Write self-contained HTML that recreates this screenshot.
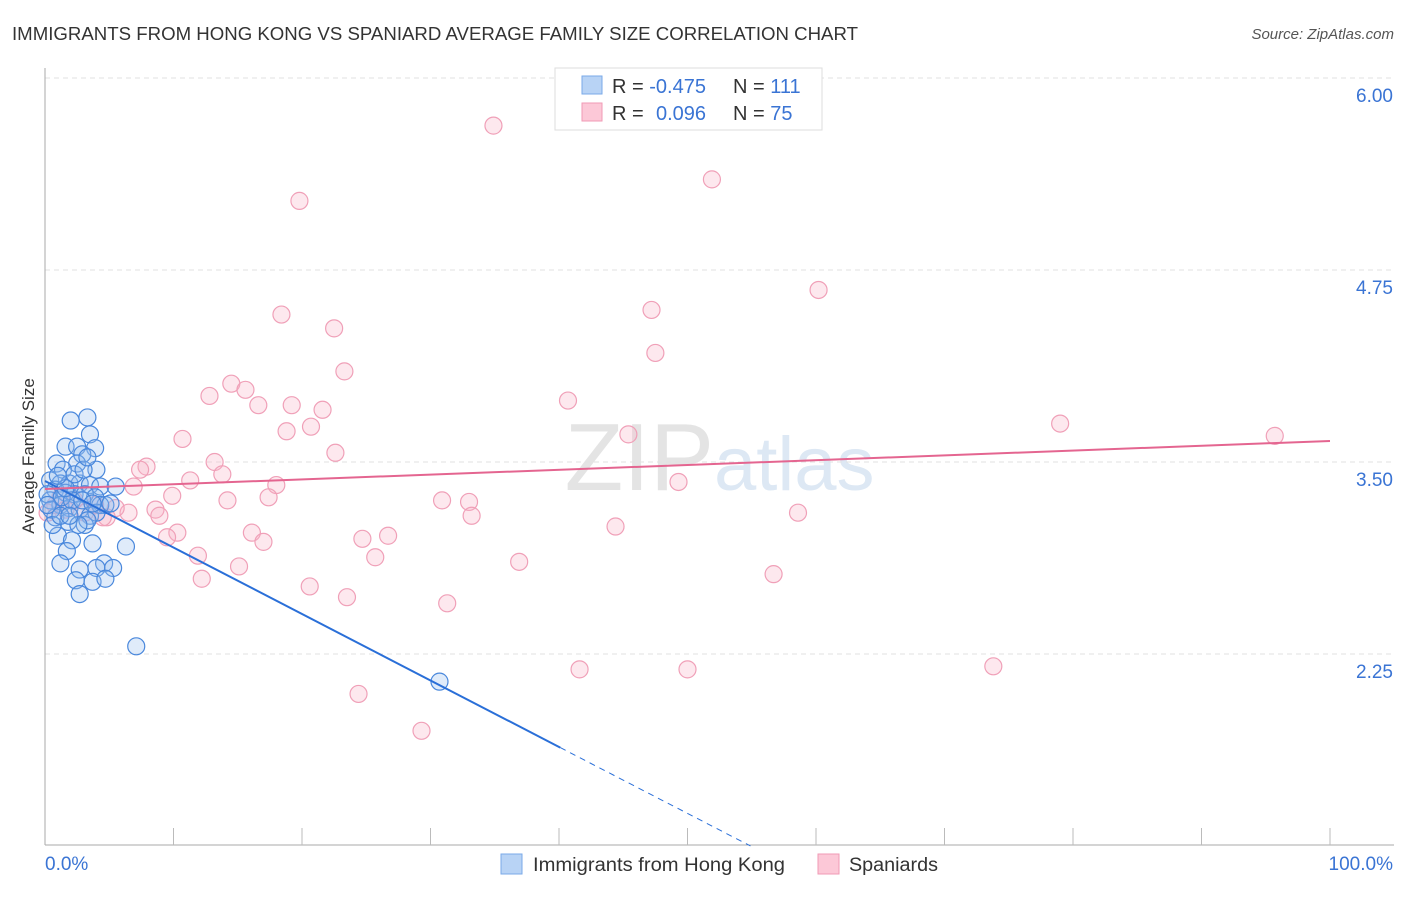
<!DOCTYPE html>
<html><head><meta charset="utf-8"><style>
body{margin:0;background:#fff;font-family:"Liberation Sans",sans-serif;}
svg text{font-family:"Liberation Sans",sans-serif;}
</style></head><body>
<svg id="chart" width="1406" height="892" xmlns="http://www.w3.org/2000/svg">
<text x="12" y="40" font-size="18" fill="#333" textLength="846" lengthAdjust="spacingAndGlyphs">IMMIGRANTS FROM HONG KONG VS SPANIARD AVERAGE FAMILY SIZE CORRELATION CHART</text>
<text x="1394" y="39" font-size="15" fill="#555" font-style="italic" text-anchor="end">Source: ZipAtlas.com</text>
<text x="714" y="490" font-size="96" fill="#e4e4e4" text-anchor="end" font-family="Liberation Serif">ZIP</text>
<text x="714" y="490" font-size="76" fill="#dde8f4">atlas</text>
<g id="grid"></g>
<g id="axes"></g>
<g id="pink"></g>
<g id="blue"></g>
<g id="lines"></g>
<text transform="translate(34,456) rotate(-90)" font-size="17" fill="#333" text-anchor="middle">Average Family Size</text>
<g>
<rect x="555" y="68" width="267" height="62" fill="#fff" stroke="#ddd"/>
<rect x="582" y="76" width="20" height="18" fill="#b8d3f5" stroke="#7aaae8"/>
<rect x="582" y="103" width="20" height="18" fill="#fcc8d7" stroke="#f09ab5"/>
<text x="612" y="93" font-size="20" fill="#333">R = <tspan fill="#3a74d4">-0.475</tspan></text>
<text x="733" y="93" font-size="20" fill="#333">N = <tspan fill="#3a74d4">111</tspan></text>
<text x="612" y="120" font-size="20" fill="#333">R = <tspan fill="#3a74d4" x="656">0.096</tspan></text>
<text x="733" y="120" font-size="20" fill="#333">N = <tspan fill="#3a74d4">75</tspan></text>
</g>
<g>
<rect x="501" y="854" width="21" height="20" fill="#b8d3f5" stroke="#7aaae8"/>
<text x="533" y="871" font-size="19" fill="#333" textLength="252" lengthAdjust="spacingAndGlyphs">Immigrants from Hong Kong</text>
<rect x="818" y="854" width="21" height="20" fill="#fcc8d7" stroke="#f09ab5"/>
<text x="849" y="871" font-size="19" fill="#333" textLength="89" lengthAdjust="spacingAndGlyphs">Spaniards</text>
</g>
</svg>
<script>
const yTicks=[6.00,4.75,3.50,2.25];
const xTickLabels=["0.0%","100.0%"];
const blueX=[2.0,3.3,3.5,1.6,2.5,3.9,2.9,0.9,2.5,4.0,1.4,0.4,1.2,1.9,2.7,3.5,4.3,5.5,0.8,1.6,2.3,3.1,3.9,4.7,0.4,1.2,1.9,2.7,3.5,0.8,1.8,3.1,1.0,2.1,3.7,6.3,1.7,1.2,4.6,2.7,4.0,5.3,2.4,3.7,4.7,2.7,7.1,30.7,0.2,0.5,1.3,2.1,1.6,1.0,2.3,3.0,3.3,4.3,5.1,4.0,3.3,2.6,0.6,0.2,1.2,1.9,2.9,3.7];
const blueY=[3.77,3.79,3.68,3.60,3.60,3.59,3.55,3.49,3.49,3.45,3.45,3.38,3.36,3.36,3.36,3.35,3.34,3.34,3.32,3.30,3.29,3.29,3.27,3.22,3.25,3.22,3.20,3.19,3.15,3.14,3.11,3.09,3.02,2.99,2.97,2.95,2.92,2.84,2.84,2.80,2.81,2.81,2.73,2.72,2.74,2.64,2.30,2.07,3.29,3.19,3.27,3.25,3.33,3.41,3.42,3.45,3.53,3.22,3.23,3.17,3.12,3.09,3.09,3.22,3.15,3.15,3.25,3.23];
const pinkX=[34.9,51.9,19.8,60.2,18.4,47.2,22.5,47.5,23.3,14.5,15.6,12.8,40.7,16.6,19.2,21.6,20.7,18.8,79.0,95.7,10.7,45.4,22.6,13.2,13.8,7.9,7.4,11.3,18.0,49.3,6.9,9.9,14.2,17.4,30.9,33.0,8.6,6.5,8.9,33.2,58.6,4.8,44.4,16.1,10.3,9.5,24.7,26.7,17.0,11.9,25.7,36.9,15.1,56.7,12.2,20.6,23.5,31.3,41.6,50.0,73.8,24.4,29.3,0.8,1.6,2.3,3.1,3.9,5.5,4.5,1.2,0.2];
const pinkY=[5.69,5.34,5.20,4.62,4.46,4.49,4.37,4.21,4.09,4.01,3.97,3.93,3.90,3.87,3.87,3.84,3.73,3.70,3.75,3.67,3.65,3.68,3.56,3.50,3.42,3.47,3.45,3.38,3.35,3.37,3.34,3.28,3.25,3.27,3.25,3.24,3.19,3.17,3.15,3.15,3.17,3.14,3.08,3.04,3.04,3.01,3.00,3.02,2.98,2.89,2.88,2.85,2.82,2.77,2.74,2.69,2.62,2.58,2.15,2.15,2.17,1.99,1.75,3.22,3.19,3.25,3.17,3.22,3.20,3.14,3.27,3.17];
const blueTrend=[3.376,1.645];
const blueTrendEnd=[40.1,54.9];
const pinkTrend=[3.324,3.637];

const NS="http://www.w3.org/2000/svg";
const X=p=>45+p*12.85;
const Y=v=>462-(v-3.5)*153.6;
function mk(tag,attrs,parent){const e=document.createElementNS(NS,tag);for(const k in attrs)e.setAttribute(k,attrs[k]);document.getElementById(parent).appendChild(e);return e;}

yTicks.forEach(t=>{
  const l=mk('line',{x1:45,x2:1394,y1:Y(t),y2:Y(t),stroke:'#e2e2e2','stroke-dasharray':'5,4'},'grid');
  
  
  const tx=mk('text',{x:1393,y:Y(t)+24,'font-size':19,fill:'#3a74d4','text-anchor':'end'},'grid');
  tx.textContent=t.toFixed(2);
  
  
});
const ax=mk('line',{x1:45,x2:45,y1:68,y2:845,stroke:'#aaa'},'axes');


const bx=mk('line',{x1:45,x2:1394,y1:845,y2:845,stroke:'#aaa'},'axes');


for(let i=1;i<=10;i++){
  const t=mk('line',{x1:X(i*10),x2:X(i*10),y1:828,y2:845,stroke:'#bbb'},'axes');
  
  
}
[[0,'start'],[100,'end']].forEach((p,i)=>{
  const tx=mk('text',{x:i?1393:45,y:870,'font-size':19,fill:'#3a74d4','text-anchor':p[1]},'axes');
  tx.textContent=xTickLabels[i];
  
  
});
pinkX.forEach((x,i)=>{
  const c=mk('circle',{cx:X(x),cy:Y(pinkY[i]),r:8.5,fill:'rgba(248,180,200,0.3)',stroke:'#f0a0b8','stroke-width':1.2},'pink');
  
  
});
blueX.forEach((x,i)=>{
  const c=mk('circle',{cx:X(x),cy:Y(blueY[i]),r:8.5,fill:'rgba(150,190,240,0.3)',stroke:'#4a88dc','stroke-width':1.2},'blue');
  
  
});
const bslope=(blueTrend[1]-blueTrend[0])/40;
const bv=p=>blueTrend[0]+bslope*p;
const l1=mk('line',{x1:X(0),y1:Y(bv(0)),x2:X(blueTrendEnd[0]),y2:Y(bv(blueTrendEnd[0])),stroke:'#2a6fd8','stroke-width':2},'lines');


const l2=mk('line',{x1:X(blueTrendEnd[0]),y1:Y(bv(blueTrendEnd[0])),x2:X(blueTrendEnd[1]),y2:Y(bv(blueTrendEnd[1])),stroke:'#2a6fd8','stroke-width':1,'stroke-dasharray':'6,5'},'lines');


const l3=mk('line',{x1:X(0),y1:Y(pinkTrend[0]),x2:X(100),y2:Y(pinkTrend[1]),stroke:'#e46590','stroke-width':2},'lines');


</script>
</body></html>
